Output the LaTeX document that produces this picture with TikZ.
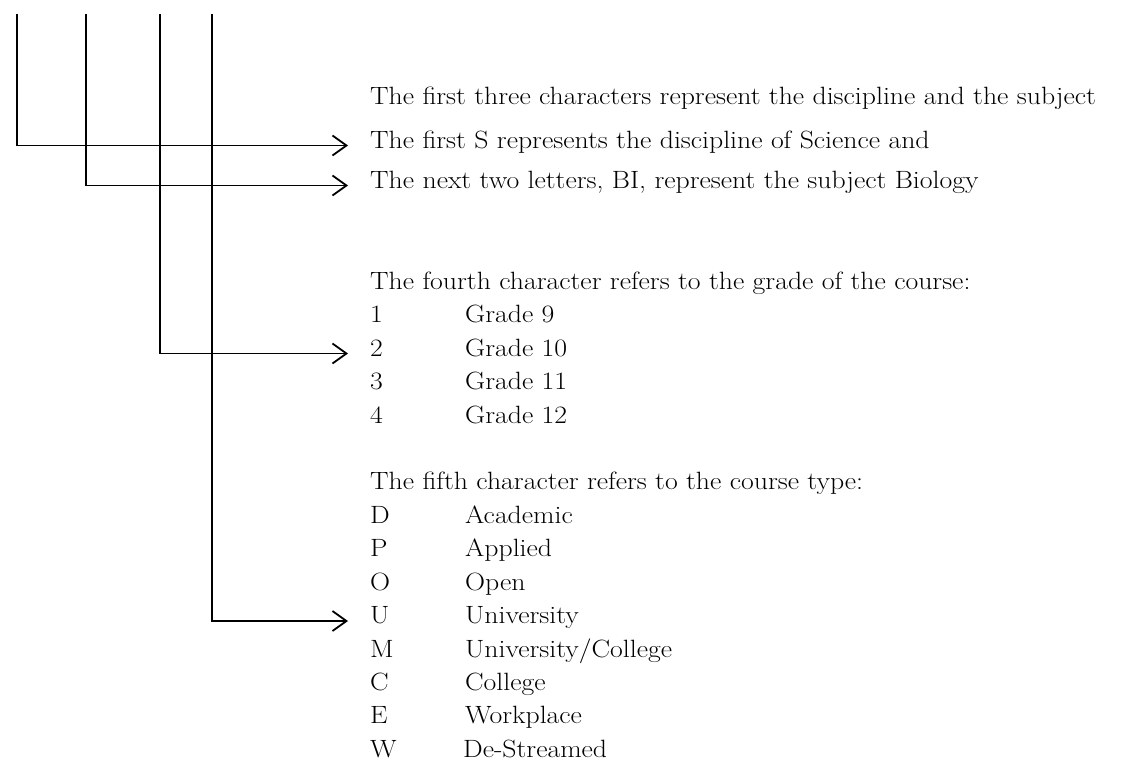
\documentclass[tikz,border=0pt]{standalone}
\usetikzlibrary{arrows.meta}
\newcommand{\tx}[1]{\scalebox{1.11}[1]{#1}}
\begin{document}
\begin{tikzpicture}[x=1pt,y=-1pt,
  lbl/.style={anchor=base west, inner sep=0pt, text height=0.7em, text depth=0.2em,
    font=\fontsize{25}{30}\selectfont},
  conn/.style={line width=1.8pt, -{Straight Barb[length=14pt,width=20pt]}, shorten >=22pt}]
\useasboundingbox (0,0) rectangle (1131,760);
% top ends of the four rails
\coordinate (v1) at (17,14);
\coordinate (v2) at (86,14);
\coordinate (v3) at (160,14);
\coordinate (v4) at (212,14);
% texts
\node[lbl] (first) at (370,104) {\tx{The first three characters represent the discipline and the subject}};
\node[lbl] (sci) at (370,148) {\tx{The first S represents the discipline of Science and}};
\node[lbl] (bio) at (370,188) {\tx{The next two letters, BI, represent the subject Biology}};
\node[lbl] (grade) at (370,289) {\tx{The fourth character refers to the grade of the course:}};
\node[lbl] (g1) at (370,322.5) {\tx{1}};
\node[lbl] (g1t) at (465,322.5) {\tx{Grade 9}};
\node[lbl] (g2) at (370,356) {\tx{2}};
\node[lbl] (g2t) at (465,356) {\tx{Grade 10}};
\node[lbl] (g3) at (370,389.5) {\tx{3}};
\node[lbl] (g3t) at (465,389.5) {\tx{Grade 11}};
\node[lbl] (g4) at (370,423) {\tx{4}};
\node[lbl] (g4t) at (465,423) {\tx{Grade 12}};
\node[lbl] (type) at (370,489) {\tx{The fifth character refers to the course type:}};
\node[lbl] (tD) at (370,523) {\tx{D}};
\node[lbl] (tDt) at (465,523) {\tx{Academic}};
\node[lbl] (tP) at (370,556.5) {\tx{P}};
\node[lbl] (tPt) at (465,556.5) {\tx{Applied}};
\node[lbl] (tO) at (370,590) {\tx{O}};
\node[lbl] (tOt) at (465,590) {\tx{Open}};
\node[lbl] (tU) at (370,623.5) {\tx{U}};
\node[lbl] (tUt) at (465,623.5) {\tx{University}};
\node[lbl] (tM) at (370,657) {\tx{M}};
\node[lbl] (tMt) at (465,657) {\tx{University/College}};
\node[lbl] (tC) at (370,690) {\tx{C}};
\node[lbl] (tCt) at (465,690) {\tx{College}};
\node[lbl] (tE) at (370,723.5) {\tx{E}};
\node[lbl] (tEt) at (465,723.5) {\tx{Workplace}};
\node[lbl] (tW) at (370,757) {\tx{W}};
\node[lbl] (tWt) at (463,757) {\tx{De-Streamed}};
% connectors
\draw[conn] (v1) |- (sci.west);
\draw[conn] (v2) |- (bio.west);
\draw[conn] (v3) |- (g2.west);
\draw[conn] (v4) |- (tU.west);
\end{tikzpicture}
\end{document}
